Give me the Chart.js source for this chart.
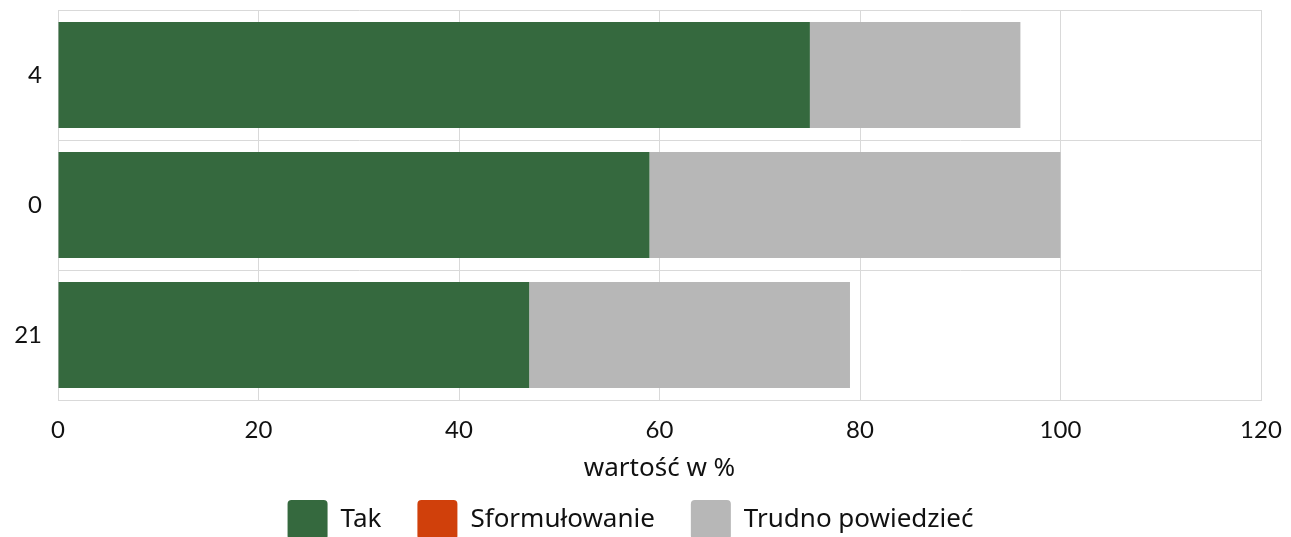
<!DOCTYPE html>
<html>
<head>
<meta charset="utf-8">
<script src="https://cdn.jsdelivr.net/npm/chart.js@4/dist/chart.umd.min.js"></script>
<style>
  html, body { margin: 0; padding: 0; background: #fff; overflow: hidden; }
  #wrap { width: 1291px; height: 550px; }
</style>
</head>
<body>
<div id="wrap"><canvas id="chart"></canvas></div>
<script>
const categories = ['4', '0', '21'];
const takValues = [75, 59, 47];
const sformulowanieValues = [0, 0, 0];
const trudnoValues = [21, 41, 32];
const xTicks = [0, 20, 40, 60, 80, 100, 120];

const TICK_FONT = 'Lato, sans-serif';
const TEXT_FONT = '"Noto Sans", "Open Sans", sans-serif';
Chart.defaults.color = '#111';

new Chart(document.getElementById('chart'), {
    type: 'bar',
    data: {
        labels: categories,
        datasets: [
            { label: 'Tak', data: takValues, backgroundColor: '#35693e' },
            { label: 'Sformułowanie', data: sformulowanieValues, backgroundColor: '#d0400b' },
            { label: 'Trudno powiedzieć', data: trudnoValues, backgroundColor: '#b7b7b7' }
        ]
    },
    options: {
        indexAxis: 'y',
        responsive: true,
        maintainAspectRatio: false,
        animation: false,
        layout: { padding: { top: 10, right: 30, left: 0, bottom: 0 } },
        datasets: { bar: { barPercentage: 0.815, categoryPercentage: 1 } },
        scales: {
            x: {
                stacked: true,
                min: 0,
                max: 120,
                afterBuildTicks: scale => { scale.ticks = xTicks.map(v => ({ value: v })); },
                afterFit: scale => {
                    scale.height = 64;
                    scale.paddingLeft = 0;
                    scale.paddingRight = 0;
                },
                grid: { color: '#d9d9d9', drawTicks: false },
                border: { color: '#d9d9d9' },
                ticks: { font: { family: TICK_FONT, size: 24 }, padding: 16, color: '#111' },
                title: { display: true, text: 'wartość w %', font: { family: TEXT_FONT, size: 26 }, padding: { top: 0, bottom: -20 }, color: '#111' }
            },
            y: {
                stacked: true,
                afterFit: scale => {
                    scale.width = 58;
                    scale.paddingTop = 0;
                    scale.paddingBottom = 0;
                },
                grid: { color: '#d9d9d9', drawTicks: false },
                border: { color: '#d9d9d9' },
                ticks: { font: { family: TICK_FONT, size: 24 }, padding: 16, color: '#111' }
            }
        },
        plugins: {
            legend: {
                position: 'bottom',
                labels: {
                    font: { family: TEXT_FONT, size: 26 },
                    boxWidth: 40,
                    boxHeight: 40,
                    padding: 36,
                    useBorderRadius: true,
                    borderRadius: 4,
                    color: '#111'
                }
            },
            tooltip: { enabled: false }
        }
    }
});
</script>
</body>
</html>
